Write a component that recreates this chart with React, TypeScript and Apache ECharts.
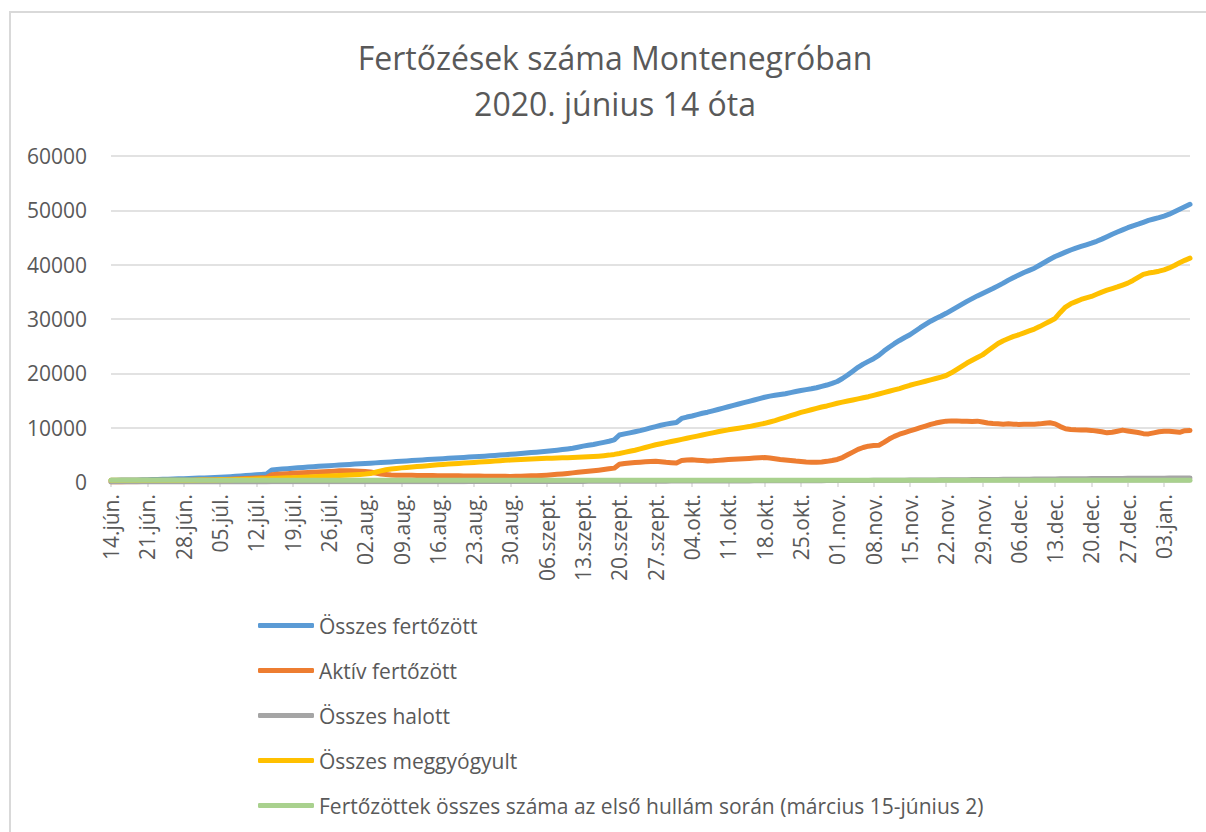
import React, { useEffect, useRef } from "react";
import * as echarts from "echarts";

const TITLE_LINE_1 = "Fertőzések száma Montenegróban";
const TITLE_LINE_2 = "2020. június 14 óta";

const START_DATE = { year: 2020, month: 5, day: 14 };
const DAY_COUNT = 209;
const MONTH_ABBR = ["jan.", "febr.", "márc.", "ápr.", "máj.", "jún.", "júl.", "aug.", "szept.", "okt.", "nov.", "dec."];

const SERIES_NAMES = [
  "Összes fertőzött",
  "Aktív fertőzött",
  "Összes halott",
  "Összes meggyógyult",
  "Fertőzöttek összes száma az első hullám során (március 15-június 2)",
];
const SERIES_COLORS = ["#5B9BD5", "#ED7D31", "#A5A5A5", "#FFC000", "#A9D18E"];

const totalInfected = [
  326, 335, 346, 358, 372, 388, 405, 425, 448, 472,
  498, 525, 553, 582, 613, 645, 680, 716, 754, 795,
  838, 882, 930, 985, 1045, 1110, 1180, 1250, 1320, 1390,
  1460, 2200, 2290, 2380, 2460, 2540, 2610, 2680, 2750, 2810,
  2880, 2940, 3000, 3060, 3120, 3180, 3240, 3300, 3350, 3400,
  3460, 3520, 3580, 3640, 3700, 3760, 3820, 3880, 3940, 4000,
  4060, 4120, 4170, 4230, 4290, 4350, 4400, 4460, 4520, 4580,
  4640, 4700, 4760, 4820, 4880, 4950, 5020, 5090, 5170, 5250,
  5330, 5410, 5490, 5570, 5660, 5760, 5860, 5970, 6090, 6220,
  6400, 6600, 6750, 6900, 7100, 7300, 7500, 7750, 8650, 8850,
  9050, 9250, 9450, 9700, 9950, 10200, 10450, 10650, 10800, 10950,
  11700, 11950, 12150, 12400, 12650, 12850, 13100, 13350, 13600, 13850,
  14100, 14350, 14600, 14850, 15100, 15350, 15600, 15800, 15950, 16100,
  16250, 16450, 16650, 16850, 17000, 17150, 17350, 17600, 17850, 18150,
  18500, 19050, 19700, 20400, 21100, 21700, 22200, 22700, 23300, 24100,
  24800, 25450, 26050, 26600, 27100, 27750, 28400, 29000, 29600, 30100,
  30550, 31050, 31600, 32150, 32700, 33250, 33750, 34250, 34700, 35150,
  35600, 36100, 36600, 37150, 37650, 38100, 38550, 38950, 39350, 39900,
  40450, 41000, 41500, 41900, 42300, 42700, 43050, 43350, 43650, 43950,
  44300, 44700, 45150, 45600, 46000, 46400, 46800, 47150, 47450, 47800,
  48150, 48400, 48650, 48950, 49300, 49750, 50200, 50650, 51100,
];

const activeInfected = [
  5, 12, 22, 33, 45, 60, 75, 95, 115, 135,
  160, 185, 210, 235, 260, 285, 310, 335, 360, 390,
  420, 450, 480, 515, 555, 600, 650, 700, 750, 790,
  830, 1350, 1420, 1480, 1540, 1600, 1650, 1700, 1750, 1800,
  1850, 1900, 1950, 2000, 2050, 2080, 2060, 2020, 1980, 1920,
  1850, 1650, 1480, 1380, 1300, 1250, 1240, 1230, 1220, 1210,
  1200, 1190, 1180, 1170, 1160, 1150, 1140, 1130, 1120, 1110,
  1100, 1090, 1080, 1070, 1060, 1050, 1040, 1030, 1050, 1070,
  1100, 1130, 1170, 1210, 1260, 1330, 1410, 1490, 1580, 1680,
  1780, 1880, 1980, 2080, 2180, 2300, 2420, 2550, 3250, 3400,
  3500, 3580, 3650, 3720, 3780, 3820, 3720, 3620, 3550, 3500,
  3950, 4050, 4080, 4020, 3950, 3880, 3900, 3980, 4050, 4120,
  4180, 4230, 4280, 4330, 4400, 4450, 4500, 4420, 4280, 4150,
  4050, 3950, 3850, 3780, 3700, 3650, 3620, 3680, 3800, 3950,
  4150, 4500, 5000, 5500, 6000, 6350, 6600, 6700, 6750, 7300,
  7900, 8400, 8800, 9100, 9400, 9700, 10000, 10300, 10600, 10850,
  11050, 11200, 11250, 11250, 11200, 11200, 11150, 11200, 11050, 10850,
  10750, 10700, 10650, 10700, 10650, 10600, 10650, 10650, 10650, 10700,
  10800, 10900, 10700, 10200, 9800, 9650, 9600, 9580, 9550, 9500,
  9400, 9250, 9050, 9150, 9350, 9550, 9400, 9250, 9100, 8900,
  8850, 9050, 9250, 9350, 9350, 9250, 9150, 9450, 9500,
];

const totalDeaths = [
  9, 9, 9, 9, 9, 9, 9, 10, 10, 10, 10, 10, 11, 11, 11, 12, 12,
  13, 13, 14, 15, 15, 16, 17, 18, 19, 19, 20, 21, 22, 23, 24, 25, 26, 27, 28, 29, 30, 31, 32, 33, 34, 35, 37, 38, 39, 40, 41,
  42, 43, 44, 45, 46, 47, 48, 49, 50, 52, 53, 54, 56, 57, 59, 60, 62, 63, 65, 66, 68, 70, 72, 74, 76, 78, 80, 82, 84, 86, 88,
  90, 92, 94, 96, 98, 100, 102, 104, 106, 108, 110, 112, 114, 116, 118, 120, 123, 126, 129, 132, 135, 138, 141, 144, 147, 150, 153, 156, 159, 162,
  165, 168, 171, 174, 177, 180, 183, 186, 189, 192, 195, 198, 201, 204, 207, 210, 213, 216, 219, 222, 225, 228, 231, 234, 237, 240, 244, 248, 252, 256, 260,
  265, 270, 275, 280, 286, 292, 298, 304, 310, 316, 322, 328, 335, 342, 349, 356, 363, 370, 377, 384, 392, 400, 408, 416, 424, 432, 440, 448, 456, 464,
  472, 480, 488, 496, 504, 512, 520, 528, 536, 544, 552, 560, 568, 576, 584, 592, 600, 608, 615, 622, 629, 636, 643, 650, 657, 664, 670, 676, 682, 688, 694,
  699, 704, 709, 714, 719, 724, 729, 734,
];

const totalRecovered = [
  315, 315, 316, 316, 317, 317, 318, 318, 319, 320,
  322, 324, 327, 330, 334, 338, 343, 350, 358, 368,
  380, 395, 410, 428, 448, 470, 495, 520, 550, 580,
  610, 640, 680, 720, 760, 800, 840, 880, 920, 960,
  1000, 1050, 1100, 1150, 1200, 1250, 1300, 1350, 1400, 1460,
  1550, 1800, 2050, 2250, 2400, 2500, 2600, 2680, 2760, 2840,
  2920, 3000, 3080, 3160, 3230, 3300, 3360, 3420, 3480, 3540,
  3600, 3660, 3720, 3780, 3850, 3920, 3990, 4060, 4110, 4160,
  4200, 4240, 4280, 4320, 4360, 4390, 4420, 4450, 4480, 4510,
  4540, 4580, 4630, 4690, 4760, 4850, 4950, 5080, 5250, 5450,
  5650, 5850, 6100, 6350, 6600, 6850, 7050, 7250, 7450, 7650,
  7850, 8050, 8250, 8450, 8650, 8850, 9050, 9250, 9420, 9600,
  9750, 9900, 10050, 10200, 10400, 10600, 10800, 11050, 11300, 11600,
  11900, 12200, 12500, 12800, 13050, 13300, 13550, 13800, 14000, 14250,
  14500, 14700, 14900, 15100, 15300, 15500, 15700, 15950, 16200, 16450,
  16700, 16950, 17200, 17500, 17800, 18050, 18300, 18550, 18800, 19050,
  19300, 19600, 20100, 20700, 21300, 21900, 22400, 22900, 23400, 24100,
  24800, 25500, 26000, 26400, 26800, 27100, 27450, 27800, 28150, 28600,
  29100, 29600, 30100, 31200, 32200, 32800, 33200, 33600, 33900, 34150,
  34550, 34950, 35300, 35600, 35900, 36250, 36600, 37100, 37650, 38200,
  38450, 38600, 38800, 39050, 39400, 39850, 40350, 40800, 41200,
];

const FIRST_WAVE_TOTAL = 324;

const Y_MIN = 0;
const Y_MAX = 60000;
const Y_INTERVAL = 10000;

function buildCategories(): string[] {
  const out: string[] = [];
  for (let i = 0; i < DAY_COUNT; i++) {
    const d = new Date(START_DATE.year, START_DATE.month, START_DATE.day + i);
    const dd = String(d.getDate()).padStart(2, "0");
    out.push(dd + "." + MONTH_ABBR[d.getMonth()]);
  }
  return out;
}

const FONT = "'Open Sans', 'Noto Sans', sans-serif";
const TEXT_COLOR = "#595959";
const GRID_COLOR = "#d9d9d9";

export default function App() {
  const ref = useRef<HTMLDivElement>(null);

  useEffect(() => {
    if (!ref.current) return;
    const chart = echarts.init(ref.current, undefined, { renderer: "svg" });
    const categories = buildCategories();
    const firstWave = categories.map(() => FIRST_WAVE_TOTAL);
    const values = [totalInfected, activeInfected, totalDeaths, totalRecovered, firstWave];

    chart.setOption({
      animation: false,
      backgroundColor: "#ffffff",
      textStyle: { fontFamily: FONT },
      graphic: [
        {
          type: "rect",
          silent: true,
          z: -10,
          shape: { x: 10, y: 12, width: 1400, height: 1000 },
          style: { fill: "none", stroke: GRID_COLOR, lineWidth: 2 },
        },
        {
          type: "text",
          x: 615,
          y: 57,
          style: {
            text: TITLE_LINE_1,
            align: "center",
            verticalAlign: "middle",
            fontSize: 32,
            fontFamily: FONT,
            fill: TEXT_COLOR,
          },
        },
        {
          type: "text",
          x: 615,
          y: 103,
          style: {
            text: TITLE_LINE_2,
            align: "center",
            verticalAlign: "middle",
            fontSize: 32,
            fontFamily: FONT,
            fill: TEXT_COLOR,
          },
        },
      ],
      grid: { left: 111, right: 16, top: 156, bottom: 350, containLabel: false },
      legend: {
        orient: "vertical",
        left: 258,
        top: 615,
        padding: 0,
        icon: "roundRect",
        itemWidth: 56,
        itemHeight: 5,
        itemGap: 24,
        data: SERIES_NAMES,
        textStyle: { fontSize: 21, lineHeight: 20, color: TEXT_COLOR, fontFamily: FONT },
      },
      xAxis: {
        type: "category",
        data: categories,
        boundaryGap: false,
        axisLine: { show: true, lineStyle: { color: GRID_COLOR, width: 1.5 } },
        axisTick: { show: true, interval: 6, length: 5, lineStyle: { color: GRID_COLOR, width: 1.5 } },
        axisLabel: {
          interval: 6,
          rotate: 90,
          margin: 12,
          fontSize: 21,
          color: TEXT_COLOR,
          fontFamily: FONT,
        },
        splitLine: { show: false },
      },
      yAxis: {
        type: "value",
        min: Y_MIN,
        max: Y_MAX,
        interval: Y_INTERVAL,
        axisLine: { show: false },
        axisTick: { show: false },
        axisLabel: {
          fontSize: 21,
          color: TEXT_COLOR,
          margin: 24,
          fontFamily: FONT,
          formatter: (v: number) => String(v),
        },
        splitLine: { show: true, lineStyle: { color: GRID_COLOR, width: 1.5 } },
      },
      series: SERIES_NAMES.map((name, i) => ({
        name,
        type: "line",
        data: values[i],
        symbol: "none",
        showSymbol: false,
        smooth: false,
        color: SERIES_COLORS[i],
        lineStyle: { width: 5, color: SERIES_COLORS[i], cap: "round", join: "round" },
        emphasis: { disabled: true },
      })),
    });

    return () => chart.dispose();
  }, []);

  return (
    <div
      ref={ref}
      style={{ position: "fixed", left: 0, top: 0, width: 1206, height: 832, background: "#fff" }}
    />
  );
}
